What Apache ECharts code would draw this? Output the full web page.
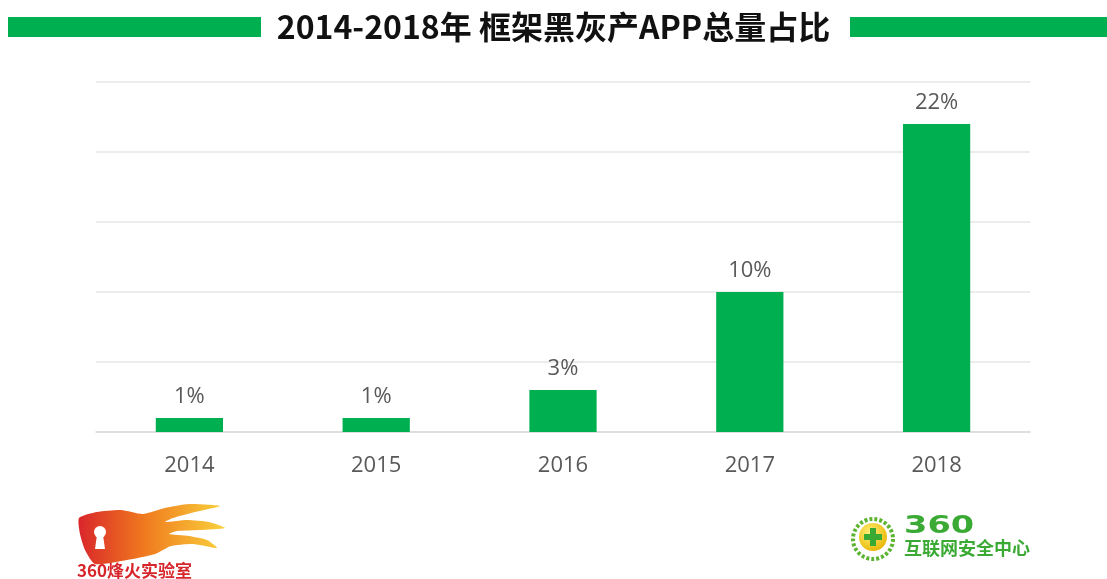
<!DOCTYPE html>
<html>
<head>
<meta charset="utf-8">
<title>2014-2018年 框架黑灰产APP总量占比</title>
<script src="https://cdn.jsdelivr.net/npm/echarts@6/dist/echarts.min.js"></script>
<style>
  html, body { margin: 0; padding: 0; background: #fff; }
  #chart { width: 1107px; height: 579px; }
</style>
</head>
<body>
<div id="chart"></div>
<script>
var years = ['2014', '2015', '2016', '2017', '2018']
var shares = [1, 1, 3, 10, 22]
var titleText = '2014-2018年 框架黑灰产APP总量占比'

var green = '#00b050'
var chart = echarts.init(document.getElementById('chart'))

// 烽火实验室 logo 的火焰形状（相对 logo 左上角）
var flamePoints = [
  [2, 14], [20, 8], [44, 6], [66, 10], [88, 4], [112, 0], [143, 2], [118, 8],
  [96, 14], [88, 18], [110, 16], [132, 18], [148, 24], [124, 26], [100, 27],
  [92, 30], [112, 32], [130, 36], [140, 44], [116, 40], [94, 42], [78, 50],
  [50, 56], [18, 60], [8, 46], [3, 30]
]

chart.setOption({
  title: {
    text: titleText,
    left: 'center',
    top: 6,
    textStyle: {
      fontFamily: 'Noto Sans CJK SC',
      fontSize: 32,
      fontWeight: 'bold',
      color: '#111'
    }
  },
  grid: {
    left: 96,
    right: 77,
    top: 82,
    bottom: 147
  },
  xAxis: {
    type: 'category',
    data: years,
    axisTick: { show: false },
    axisLine: { lineStyle: { color: '#d9d9d9', width: 1.5 } },
    axisLabel: {
      margin: 23,
      fontFamily: 'Open Sans',
      fontSize: 22,
      color: '#595959'
    }
  },
  yAxis: {
    type: 'value',
    min: 0,
    max: 25,
    interval: 5,
    axisLabel: { show: false },
    axisLine: { show: false },
    axisTick: { show: false },
    splitLine: { lineStyle: { color: '#e6e6e6', width: 1.5 } }
  },
  series: [
    {
      type: 'bar',
      data: shares,
      barWidth: '36%',
      itemStyle: { color: green },
      label: {
        show: true,
        position: 'top',
        distance: 10,
        formatter: '{c}%',
        fontFamily: 'Open Sans',
        fontSize: 22,
        color: '#595959'
      },
      animation: false
    }
  ],
  graphic: [
    // 标题两侧的绿色条
    { type: 'rect', shape: { x: 8, y: 17, width: 253, height: 20 }, style: { fill: green } },
    { type: 'rect', shape: { x: 850, y: 17, width: 257, height: 20 }, style: { fill: green } },
    // 左下角 360烽火实验室
    {
      type: 'group',
      x: 77,
      y: 504,
      children: [
        {
          type: 'polygon',
          shape: { points: flamePoints, smooth: 0.2 },
          style: {
            fill: new echarts.graphic.LinearGradient(0, 0, 1, 0, [
              { offset: 0, color: '#d9262b' },
              { offset: 0.45, color: '#f07a1e' },
              { offset: 1, color: '#f9d23c' }
            ])
          }
        },
        { type: 'circle', shape: { cx: 23, cy: 28, r: 6 }, style: { fill: '#fff' } },
        {
          type: 'polygon',
          shape: { points: [[20, 31], [26, 31], [28, 45], [18, 45]] },
          style: { fill: '#fff' }
        }
      ]
    },
    {
      type: 'text',
      x: 77,
      y: 562,
      style: {
        text: '360烽火实验室',
        fontFamily: 'Noto Sans CJK SC',
        fontWeight: 'bold',
        fontSize: 17,
        fill: '#d7262b'
      }
    },
    // 右下角 360互联网安全中心
    {
      type: 'circle',
      shape: { cx: 873, cy: 539, r: 20 },
      style: { fill: 'none', stroke: '#5cb531', lineWidth: 4, lineDash: [3, 2] }
    },
    {
      type: 'circle',
      shape: { cx: 873, cy: 537, r: 14 },
      style: {
        fill: new echarts.graphic.RadialGradient(0.4, 0.35, 0.7, [
          { offset: 0, color: '#fff27a' },
          { offset: 1, color: '#e9b400' }
        ])
      }
    },
    { type: 'rect', shape: { x: 870, y: 528, width: 6, height: 18 }, style: { fill: '#3aaa35' } },
    { type: 'rect', shape: { x: 864, y: 534, width: 18, height: 6 }, style: { fill: '#3aaa35' } },
    {
      type: 'text',
      x: 904,
      y: 515,
      scaleX: 1.4,
      style: {
        text: '360',
        fontFamily: 'DejaVu Sans',
        fontWeight: 'bold',
        fontSize: 24,
        fill: '#3aaa35'
      }
    },
    {
      type: 'text',
      x: 904,
      y: 539,
      style: {
        text: '互联网安全中心',
        fontFamily: 'Noto Sans CJK SC',
        fontWeight: 'bold',
        fontSize: 18,
        fill: '#3aaa35'
      }
    }
  ]
})
</script>
</body>
</html>
